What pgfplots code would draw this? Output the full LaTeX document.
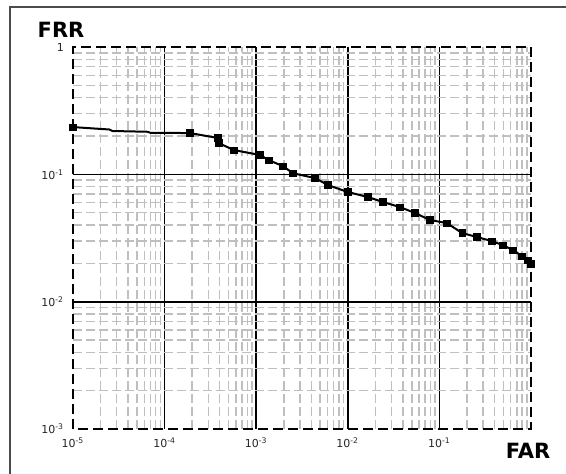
\documentclass[border=0pt]{standalone}
\usepackage{pgfplots}
\pgfplotsset{compat=1.18}
\usepackage{fontspec}
\setmainfont{DejaVu Sans}
\newcommand\tp[1]{10\textsuperscript{#1}}
\begin{document}
\begin{tikzpicture}
\useasboundingbox (0,0) rectangle (283pt,-236.5pt);
\fill[white] (0,0) rectangle (283pt,-236.5pt);
\draw[line width=1pt, black!70] (5pt,-3.5pt) rectangle (300pt,-260pt);
\node[font=\bfseries\fontsize{10.5}{12}\selectfont] at (30.5pt,-15pt) {FRR};
\node[font=\bfseries\fontsize{10.5}{12}\selectfont] at (264pt,-225.5pt) {FAR};
\begin{axis}[
  at={(36.5pt,-214.5pt)}, anchor=south west,
  scale only axis, width=229pt, height=191pt,
  xmode=log, ymode=log,
  xmin=1e-5, xmax=1, ymin=1e-3, ymax=1,
  axis line style={black, line width=1.1pt, dash pattern=on 5pt off 2.5pt},
  grid=both,
  major grid style={black, line width=0.85pt, solid},
  minor grid style={black!25, line width=0.75pt, dash pattern=on 4.5pt off 2pt},
  major tick length=0pt, minor tick length=0pt,
  xtick={1e-4,1e-3,1e-2,1e-1},
  xticklabels={\tp{-4},\tp{-3},\tp{-2},\tp{-1}},
  ytick={1e-2,1e-1},
  yticklabels={\tp{-2},\tp{-1}},
  extra x ticks={1e-5},
  extra x tick labels={\tp{-5}},
  extra y ticks={1e-3,1},
  extra y tick labels={\tp{-3},1},
  extra tick style={grid=none},
  minor xtick={2e-5,3e-5,4e-5,5e-5,6e-5,7e-5,8e-5,9e-5,
               2e-4,3e-4,4e-4,5e-4,6e-4,7e-4,8e-4,9e-4,
               2e-3,3e-3,4e-3,5e-3,6e-3,7e-3,8e-3,9e-3,
               2e-2,3e-2,4e-2,5e-2,6e-2,7e-2,8e-2,9e-2,
               0.2,0.3,0.4,0.5,0.6,0.7,0.8,0.9},
  minor ytick={2e-3,3e-3,4e-3,5e-3,6e-3,7e-3,8e-3,9e-3,
               2e-2,3e-2,4e-2,5e-2,6e-2,7e-2,8e-2,9e-2,
               0.2,0.3,0.4,0.5,0.6,0.7,0.8,0.9},
  tick label style={font=\fontsize{5.5}{6}\selectfont, text=black!85},
  xticklabel style={yshift=-1pt},
  yticklabel style={xshift=-1pt},
  clip=false,
]
\addplot[black, line width=1pt, no marks] coordinates {
(1e-5,0.235) (2.5e-5,0.225) (2.7e-5,0.219) (6.5e-5,0.216) (7e-5,0.212) (1.89e-4,0.211)
(3.83e-4,0.193) (3.9e-4,0.176) (5.73e-4,0.155) (1.10e-3,0.142) (1.38e-3,0.129)
(1.96e-3,0.116) (2.52e-3,0.102) (4.39e-3,0.0935) (6.08e-3,0.0824) (1.0e-2,0.0726)
(1.66e-2,0.0664) (2.42e-2,0.0606) (3.72e-2,0.0553) (5.42e-2,0.0497) (7.89e-2,0.0438)
(0.121,0.0414) (0.177,0.0346) (0.257,0.0322) (0.375,0.0299) (0.494,0.0278)
(0.637,0.0254) (0.798,0.0228) (0.927,0.0212) (1.0,0.0198)
};
\addplot[black, only marks, mark=square*, mark size=1.6pt] coordinates {
(1e-5,0.235) (1.89e-4,0.211)
(3.83e-4,0.193) (3.9e-4,0.176) (5.73e-4,0.155) (1.10e-3,0.142) (1.38e-3,0.129)
(1.96e-3,0.116) (2.52e-3,0.102) (4.39e-3,0.0935) (6.08e-3,0.0824) (1.0e-2,0.0726)
(1.66e-2,0.0664) (2.42e-2,0.0606) (3.72e-2,0.0553) (5.42e-2,0.0497) (7.89e-2,0.0438)
(0.121,0.0414) (0.177,0.0346) (0.257,0.0322) (0.375,0.0299) (0.494,0.0278)
(0.637,0.0254) (0.798,0.0228) (0.927,0.0212) (1.0,0.0198)
};
\end{axis}
\end{tikzpicture}
\end{document}
